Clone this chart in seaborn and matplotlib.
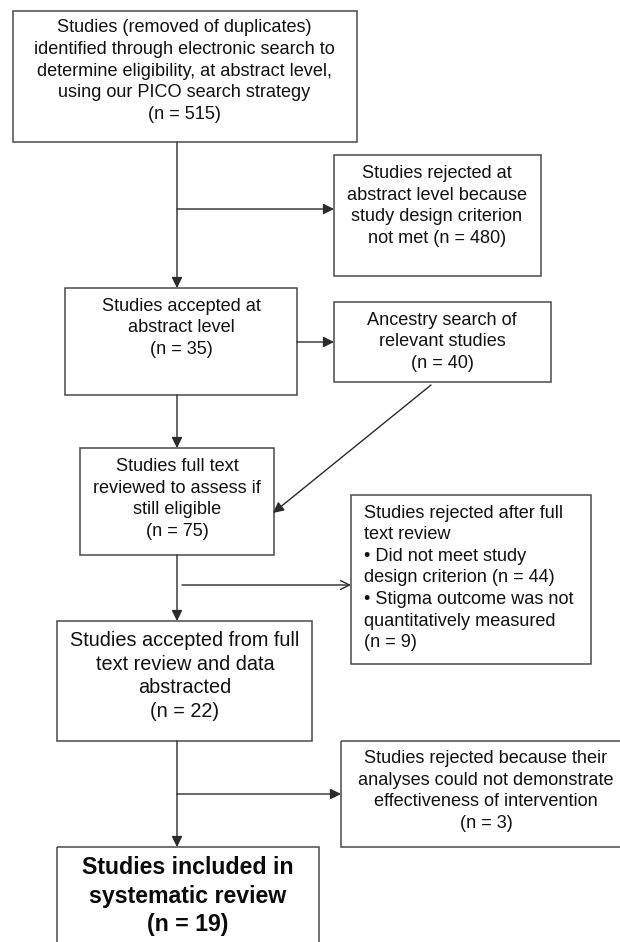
import matplotlib
matplotlib.use("Agg")
import matplotlib.pyplot as plt
import seaborn as sns
from matplotlib.patches import Rectangle
from matplotlib import font_manager

# ------------------------------------------------------------
# Data: study counts at every stage of the review
# ------------------------------------------------------------
stage_n = [515, 35, 75, 22, 19]
ancestry_n = 40
rejected_abstract_n = 480
rejected_design_n = 44
rejected_stigma_n = 9
rejected_effect_n = 3

stage_text = [
    "Studies (removed of duplicates)\nidentified through electronic search to\n"
    "determine eligibility, at abstract level,\nusing our PICO search strategy\n(n = {})",
    "Studies accepted at\nabstract level\n(n = {})",
    "Studies full text\nreviewed to assess if\nstill eligible\n(n = {})",
    "Studies accepted from full\ntext review and data\nabstracted\n(n = {})",
    "Studies included in\nsystematic review\n(n = {})",
]
ancestry_text = "Ancestry search of\nrelevant studies\n(n = {})"
rej_abstract_text = "Studies rejected at\nabstract level because\nstudy design criterion\nnot met (n = {})"
rej_full_text = ("Studies rejected after full\ntext review\n\u2022 Did not meet study\n"
                 "design criterion (n = {})\n\u2022 Stigma outcome was not\n"
                 "quantitatively measured\n(n = {})")
rej_effect_text = ("Studies rejected because their\nanalyses could not demonstrate\n"
                   "effectiveness of intervention\n(n = {})")

# ------------------------------------------------------------
# Style
# ------------------------------------------------------------
sns.set_theme(style="white")
names = {f.name for f in font_manager.fontManager.ttflist}
if "Liberation Sans Narrow" in names:
    fam, fs = "Liberation Sans Narrow", 15.5
else:
    fam, fs = "Liberation Sans", 13.1
plt.rcParams["font.family"] = [fam, "DejaVu Sans"]

box_col = "#4a4a4a"
line_col = "#2b2b2b"
txt_col = "#111111"
ls = 1.35

fig = plt.figure(figsize=(6.2, 9.42), dpi=100)
ax = fig.add_axes([0, 0, 1, 1])
ax.set_xlim(0, 620)
ax.set_ylim(942, 0)
ax.axis("off")


def box(x0, y0, x1, y1):
    ax.add_patch(Rectangle((x0, y0), x1 - x0, y1 - y0, fill=False,
                           edgecolor=box_col, lw=1.1))


def arrow(p0, p1, style="-|>"):
    ax.annotate("", xy=p1, xytext=p0,
                arrowprops=dict(arrowstyle=style + ",head_length=0.8,head_width=0.4",
                                color=line_col, lw=1.0, shrinkA=0, shrinkB=0,
                                mutation_scale=8))


# boxes
box(12.5, 10.5, 356.5, 142)
box(334, 155, 541, 275.5)
box(65, 288, 297, 395)
box(334, 302, 551, 382)
box(80, 448, 274, 555)
box(351, 494.5, 590.5, 664)
box(57, 621, 312, 741)
box(341, 741, 625, 847)
box(57, 847, 319, 960)

# texts
ax.text(184.5, 71, stage_text[0].format(stage_n[0]), ha="center", va="center",
        fontsize=fs, linespacing=ls, color=txt_col)
ax.text(437, 206, rej_abstract_text.format(rejected_abstract_n), ha="center", va="center",
        fontsize=fs, linespacing=ls, color=txt_col)
ax.text(181, 328, stage_text[1].format(stage_n[1]), ha="center", va="center",
        fontsize=fs, linespacing=ls, color=txt_col)
ax.text(442, 342, ancestry_text.format(ancestry_n), ha="center", va="center",
        fontsize=fs, linespacing=ls, color=txt_col)
ax.text(177, 499, stage_text[2].format(stage_n[2]), ha="center", va="center",
        fontsize=fs, linespacing=ls, color=txt_col)
ax.text(364, 578, rej_full_text.format(rejected_design_n, rejected_stigma_n), ha="left",
        va="center", fontsize=fs, linespacing=ls, color=txt_col)
ax.text(185, 676, stage_text[3].format(stage_n[3]), ha="center", va="center",
        fontsize=fs * 1.09, linespacing=1.33, color=txt_col)
ax.text(486, 791, rej_effect_text.format(rejected_effect_n), ha="center", va="center",
        fontsize=fs, linespacing=ls, color=txt_col)
ax.text(188, 896, stage_text[4].format(stage_n[4]), ha="center", va="center",
        fontsize=fs * 1.27, fontweight="bold", linespacing=1.29, color="#0a0a0a")

# connectors
arrow((177, 142), (177, 288))
arrow((177, 209), (334, 209))
arrow((297, 342), (334, 342))
arrow((431, 385), (273, 513))
arrow((177, 395), (177, 448))
arrow((182, 585), (351, 585), style="->")
arrow((177, 555), (177, 621))
arrow((177, 741), (177, 847))
arrow((177, 794), (341, 794))

fig.savefig("out.png", dpi=100)
